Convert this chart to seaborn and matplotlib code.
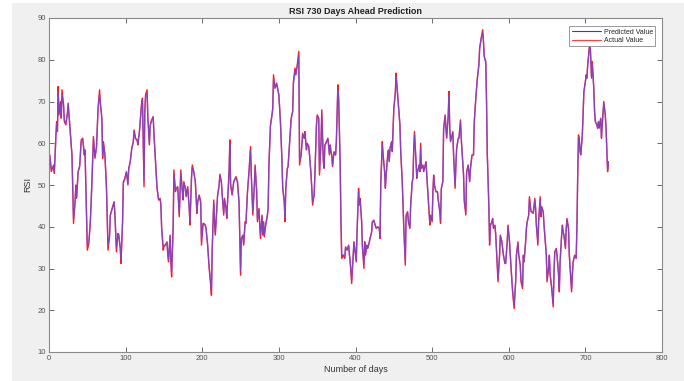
import matplotlib
matplotlib.use("Agg")
import matplotlib.pyplot as plt
import seaborn as sns
import pandas as pd
from matplotlib.lines import Line2D
from matplotlib.patches import Rectangle

days = [
    1, 3, 6, 7, 9, 10, 11, 12, 13, 15,
    16, 17, 19, 20, 22, 24, 25, 27, 30, 31,
    32, 34, 35, 36, 38, 40, 42, 44, 46, 47,
    49, 50, 52, 54, 56, 58, 60, 62, 64, 66,
    67, 69, 70, 71, 73, 75, 77, 79, 80, 83,
    85, 86, 88, 90, 91, 93, 94, 96, 97, 99,
    101, 103, 104, 106, 108, 110, 111, 113, 115, 116,
    118, 121, 122, 124, 125, 126, 128, 129, 131, 132,
    134, 136, 137, 139, 141, 143, 145, 146, 147, 149,
    150, 152, 154, 155, 156, 158, 159, 160, 162, 163,
    165, 166, 168, 169, 170, 172, 174, 175, 176, 178,
    179, 181, 183, 184, 186, 187, 189, 191, 192, 193,
    194, 196, 198, 199, 201, 202, 204, 205, 207, 209,
    211, 212, 213, 215, 216, 217, 218, 220, 222, 223,
    225, 226, 228, 229, 231, 232, 233, 235, 236, 237,
    239, 240, 241, 243, 244, 246, 247, 248, 250, 251,
    253, 254, 256, 257, 259, 261, 263, 264, 266, 268,
    269, 271, 272, 274, 275, 276, 278, 279, 280, 281,
    283, 285, 286, 287, 289, 291, 292, 293, 295, 297,
    298, 300, 302, 304, 305, 307, 308, 309, 311, 312,
    314, 316, 318, 319, 321, 322, 324, 326, 327, 329,
    330, 331, 333, 334, 336, 337, 339, 340, 342, 344,
    346, 347, 349, 350, 352, 353, 355, 356, 358, 359,
    360, 362, 364, 366, 367, 368, 369, 370, 372, 374,
    375, 377, 378, 380, 381, 382, 384, 386, 387, 389,
    391, 393, 394, 395, 397, 398, 399, 401, 402, 404,
    405, 406, 408, 409, 411, 412, 413, 415, 416, 418,
    419, 421, 422, 424, 425, 427, 429, 431, 432, 433,
    435, 436, 438, 439, 440, 442, 443, 444, 445, 447,
    448, 450, 452, 453, 454, 456, 458, 459, 461, 463,
    465, 466, 468, 469, 471, 472, 474, 475, 476, 477,
    479, 480, 481, 483, 484, 485, 486, 488, 489, 490,
    492, 493, 495, 497, 498, 500, 501, 502, 503, 505,
    507, 508, 510, 511, 512, 514, 515, 517, 518, 519,
    521, 522, 523, 524, 526, 527, 528, 530, 531, 532,
    534, 535, 537, 538, 540, 541, 542, 544, 545, 547,
    549, 550, 552, 554, 555, 557, 559, 561, 562, 564,
    566, 567, 568, 570, 571, 572, 574, 575, 576, 578,
    579, 580, 582, 583, 585, 586, 588, 589, 591, 593,
    595, 596, 598, 599, 601, 603, 605, 607, 609, 610,
    612, 613, 615, 616, 618, 619, 620, 622, 623, 624,
    626, 627, 629, 630, 632, 634, 635, 636, 638, 639,
    641, 642, 643, 645, 646, 647, 649, 650, 652, 653,
    654, 656, 658, 659, 660, 662, 663, 665, 666, 667,
    669, 670, 671, 672, 674, 675, 676, 678, 679, 681,
    682, 683, 684, 686, 688, 689, 690, 691, 692, 693,
    694, 696, 697, 698, 700, 701, 702, 703, 705, 706,
    707, 708, 709, 711, 712, 713, 715, 716, 717, 718,
    720, 721, 722, 724, 725, 726, 727, 728, 729, 730,
]

actual = [
    57.2, 53.2, 54.8, 52.8, 62.0, 65.2, 62.8, 73.6, 66.8, 70.0,
    66.0, 72.8, 69.2, 65.2, 64.4, 67.2, 69.6, 64.4, 57.2, 49.2,
    40.8, 46.0, 50.0, 46.8, 53.2, 54.4, 60.8, 61.2, 57.2, 58.4,
    42.8, 34.4, 36.0, 41.2, 50.8, 61.6, 56.4, 59.2, 68.4, 72.8,
    69.6, 66.0, 56.4, 60.4, 57.2, 49.2, 34.4, 37.6, 42.8, 44.8,
    46.0, 42.8, 34.0, 38.4, 38.0, 34.8, 31.2, 41.2, 50.8, 51.6,
    53.2, 50.0, 54.0, 55.6, 58.8, 60.4, 63.2, 61.2, 60.8, 59.6,
    62.8, 70.0, 70.8, 49.6, 67.6, 71.6, 72.8, 66.0, 59.6, 64.4,
    65.6, 66.4, 62.0, 55.6, 49.2, 46.4, 46.8, 45.2, 39.6, 34.4,
    35.2, 35.6, 36.4, 33.2, 31.6, 38.0, 31.6, 28.0, 39.6, 53.6,
    48.4, 49.2, 49.6, 46.0, 42.4, 53.6, 48.4, 46.4, 50.8, 49.2,
    47.2, 49.6, 44.4, 40.4, 52.0, 54.8, 53.2, 50.8, 47.2, 43.2,
    46.0, 47.6, 46.0, 35.6, 40.8, 40.8, 40.4, 39.6, 35.6, 30.0,
    26.0, 23.6, 34.8, 46.4, 41.2, 38.0, 41.2, 47.6, 50.0, 52.6,
    50.8, 47.6, 42.8, 46.8, 44.4, 42.0, 46.0, 53.2, 60.8, 50.0,
    47.6, 49.2, 50.8, 51.6, 52.0, 50.8, 48.4, 46.0, 28.4, 37.2,
    38.0, 35.6, 41.2, 40.8, 48.4, 53.2, 59.2, 52.4, 42.8, 50.0,
    54.8, 48.4, 41.2, 44.4, 40.4, 37.2, 42.8, 38.0, 41.2, 37.6,
    40.8, 42.8, 44.4, 54.8, 64.4, 66.8, 68.4, 76.4, 73.2, 74.4,
    73.6, 71.6, 65.2, 56.0, 49.2, 46.0, 41.2, 49.2, 54.0, 54.4,
    60.4, 66.0, 67.6, 74.8, 78.0, 76.4, 78.8, 82.0, 54.8, 57.2,
    59.6, 62.4, 61.2, 62.8, 58.4, 60.0, 59.2, 57.2, 52.4, 45.2,
    47.6, 52.4, 64.4, 66.8, 66.0, 52.4, 60.4, 68.0, 55.6, 54.0,
    59.6, 60.4, 61.2, 57.2, 59.6, 58.0, 57.2, 54.4, 58.0, 57.2,
    60.4, 74.0, 70.8, 54.8, 41.2, 32.4, 33.2, 32.4, 35.2, 34.4,
    35.6, 31.6, 29.2, 26.4, 33.2, 36.4, 34.8, 31.6, 38.8, 49.2,
    45.2, 46.8, 41.2, 35.2, 30.0, 36.4, 33.2, 35.6, 34.8, 36.4,
    37.2, 38.8, 41.2, 41.6, 40.8, 39.6, 40.0, 39.6, 37.2, 50.8,
    60.4, 57.2, 53.2, 49.2, 52.4, 57.2, 58.4, 55.6, 58.8, 60.4,
    58.0, 68.4, 72.4, 76.8, 74.0, 69.2, 64.4, 58.0, 50.8, 39.6,
    30.8, 42.8, 43.6, 41.2, 39.6, 45.2, 50.8, 51.6, 58.8, 62.8,
    55.6, 51.6, 53.2, 54.8, 53.2, 60.0, 54.0, 54.8, 53.2, 54.0,
    55.6, 52.4, 46.4, 40.4, 42.8, 41.2, 48.4, 52.4, 50.0, 48.4,
    48.4, 46.4, 43.6, 40.8, 49.2, 50.8, 63.6, 66.8, 63.6, 61.2,
    66.8, 72.4, 63.6, 60.4, 62.0, 62.8, 57.2, 49.2, 54.8, 58.8,
    61.2, 61.2, 65.6, 61.2, 55.6, 52.4, 46.0, 42.8, 53.2, 54.8,
    50.8, 54.0, 57.2, 57.2, 65.2, 70.8, 75.6, 78.8, 82.8, 85.2,
    87.2, 84.4, 80.8, 79.6, 70.0, 57.2, 45.2, 35.6, 40.4, 41.2,
    42.0, 39.6, 40.4, 38.0, 30.8, 26.8, 33.2, 38.0, 36.4, 33.2,
    31.2, 31.2, 36.4, 40.4, 36.4, 30.0, 24.4, 20.4, 26.8, 33.2,
    36.4, 33.2, 30.8, 26.8, 25.2, 33.2, 31.6, 36.4, 39.6, 41.2,
    42.8, 47.2, 43.6, 43.6, 43.2, 46.8, 44.4, 40.4, 35.6, 41.2,
    47.2, 42.4, 44.8, 43.6, 40.4, 38.0, 33.2, 26.8, 30.0, 33.2,
    28.4, 25.2, 20.8, 28.4, 34.0, 34.8, 33.2, 28.4, 24.4, 31.6,
    38.0, 40.4, 38.8, 38.0, 34.8, 39.6, 42.0, 39.6, 33.2, 27.2,
    24.4, 28.4, 31.6, 33.2, 32.4, 40.4, 52.4, 62.0, 61.2, 58.0,
    57.2, 62.0, 66.8, 72.4, 74.8, 76.4, 75.6, 78.8, 82.8, 85.2,
    80.4, 75.6, 79.6, 73.2, 67.6, 65.2, 64.4, 63.6, 65.2, 63.6,
    66.0, 61.2, 64.4, 70.0, 68.4, 66.8, 63.6, 58.0, 53.2, 55.6,
]

predicted = [
    57.0, 53.8, 54.6, 53.4, 61.5, 64.6, 63.2, 72.0, 67.4, 69.5,
    66.5, 71.6, 69.0, 65.6, 64.8, 67.0, 69.2, 64.8, 57.0, 49.8,
    42.0, 45.8, 49.4, 47.2, 53.0, 54.6, 60.2, 61.0, 57.6, 58.0,
    43.6, 35.6, 36.4, 41.6, 50.4, 61.0, 56.8, 59.0, 68.0, 71.6,
    69.8, 65.8, 57.2, 60.0, 57.0, 49.6, 35.6, 37.8, 42.6, 44.6,
    45.8, 43.2, 35.2, 38.2, 38.2, 35.0, 32.2, 41.0, 50.4, 51.4,
    53.0, 50.4, 53.6, 55.4, 58.6, 60.2, 62.6, 61.0, 60.6, 59.8,
    62.6, 69.4, 70.2, 50.8, 67.0, 71.0, 72.0, 66.4, 60.0, 64.0,
    65.4, 66.0, 62.2, 55.8, 49.4, 46.6, 46.6, 45.4, 40.0, 35.4,
    35.4, 35.8, 36.2, 33.6, 32.2, 37.6, 32.2, 29.2, 39.4, 52.6,
    48.6, 49.0, 49.4, 46.2, 43.2, 52.8, 48.6, 46.8, 50.4, 49.0,
    47.4, 49.4, 44.6, 41.2, 51.6, 54.2, 53.0, 50.6, 47.4, 43.8,
    45.8, 47.4, 45.6, 36.6, 40.4, 40.6, 40.2, 39.4, 35.8, 30.6,
    27.0, 24.8, 34.2, 45.6, 41.4, 38.4, 41.0, 47.2, 49.8, 52.0,
    50.6, 47.8, 43.4, 46.4, 44.4, 42.4, 45.8, 52.8, 59.8, 50.4,
    47.8, 49.0, 50.6, 51.4, 51.8, 50.6, 48.2, 45.6, 29.6, 37.0,
    37.8, 36.0, 41.0, 40.8, 48.0, 53.0, 58.4, 52.6, 43.6, 49.6,
    54.2, 48.6, 41.8, 44.0, 40.8, 38.0, 42.4, 38.4, 41.0, 38.0,
    40.6, 42.6, 44.6, 54.4, 64.0, 66.6, 68.2, 75.4, 73.2, 74.0,
    73.4, 71.4, 65.4, 56.2, 49.6, 46.2, 42.2, 49.0, 53.8, 54.4,
    60.2, 65.6, 67.6, 74.2, 77.2, 76.4, 78.4, 81.0, 55.8, 57.0,
    59.4, 62.0, 61.2, 62.4, 58.6, 59.8, 59.2, 57.2, 52.6, 46.0,
    47.6, 52.2, 63.8, 66.4, 65.8, 53.2, 60.0, 67.0, 56.0, 54.4,
    59.4, 60.2, 61.0, 57.4, 59.4, 58.0, 57.2, 54.8, 57.8, 57.2,
    60.2, 73.0, 70.6, 55.4, 42.0, 33.4, 33.2, 32.8, 35.0, 34.4,
    35.4, 31.8, 29.8, 27.4, 33.0, 36.2, 34.8, 31.8, 38.6, 48.4,
    45.4, 46.4, 41.4, 35.6, 31.0, 36.0, 33.6, 35.4, 35.0, 36.2,
    37.2, 38.6, 41.0, 41.4, 40.8, 39.6, 40.0, 39.6, 37.6, 50.0,
    59.6, 57.2, 53.2, 49.6, 52.2, 56.8, 58.2, 55.8, 58.6, 60.2,
    58.2, 68.0, 72.0, 76.0, 74.0, 69.2, 64.2, 58.2, 51.0, 40.2,
    31.8, 42.2, 43.4, 41.4, 39.8, 45.0, 50.6, 51.6, 58.4, 62.0,
    55.8, 52.0, 53.2, 54.6, 53.4, 59.0, 54.2, 54.6, 53.4, 54.0,
    55.4, 52.2, 46.6, 41.2, 42.6, 41.6, 48.0, 52.0, 50.0, 48.4,
    48.2, 46.4, 43.8, 41.6, 49.0, 51.0, 63.0, 66.4, 63.6, 61.4,
    66.4, 71.4, 63.8, 60.6, 61.8, 62.4, 57.4, 49.8, 54.6, 58.6,
    61.0, 61.2, 65.0, 61.2, 55.6, 52.4, 46.4, 43.6, 52.8, 54.6,
    51.0, 53.8, 57.0, 57.2, 65.0, 70.6, 75.4, 78.6, 82.4, 85.0,
    86.4, 84.2, 80.8, 79.2, 70.2, 57.4, 45.4, 36.6, 40.2, 41.2,
    41.8, 39.8, 40.2, 38.2, 31.4, 27.6, 33.0, 37.8, 36.4, 33.4,
    31.4, 31.4, 36.2, 40.0, 36.4, 30.4, 25.0, 21.2, 26.8, 33.0,
    36.0, 33.4, 30.8, 27.4, 25.8, 32.8, 31.8, 36.2, 39.4, 41.0,
    42.6, 46.6, 43.8, 43.6, 43.2, 46.4, 44.4, 40.6, 36.4, 41.0,
    46.6, 42.8, 44.6, 43.6, 40.6, 38.2, 33.6, 27.6, 30.2, 33.0,
    28.8, 25.8, 21.6, 28.4, 33.6, 34.6, 33.2, 28.8, 25.2, 31.4,
    37.8, 40.0, 38.8, 38.0, 35.2, 39.4, 41.6, 39.4, 33.6, 27.8,
    25.0, 28.6, 31.4, 33.0, 32.6, 40.2, 52.0, 61.4, 61.0, 58.2,
    57.4, 61.8, 66.6, 72.0, 74.6, 76.0, 75.6, 78.4, 82.2, 84.4,
    80.6, 76.2, 79.0, 73.0, 67.8, 65.2, 64.4, 63.8, 65.0, 63.8,
    65.8, 61.6, 64.2, 69.4, 68.2, 66.6, 63.4, 58.2, 53.8, 55.4,
]

x_ticks = [0, 100, 200, 300, 400, 500, 600, 700, 800]
y_ticks = [10, 20, 30, 40, 50, 60, 70, 80, 90]
title = "RSI 730 Days Ahead Prediction"
x_label = "Number of days"
y_label = "RSI"
label_pred = "Predicted Value"
label_act = "Actual Value"

df = pd.DataFrame({"day": days, "actual": actual, "predicted": predicted})

sns.set_theme(style="ticks")
plt.rcParams["font.family"] = ["Liberation Sans", "DejaVu Sans"]

fig = plt.figure(figsize=(6.84, 3.81), dpi=100, facecolor="white")
# grey MATLAB-style figure panel (white strip at left and top as in reference)
panel = Rectangle((12 / 684, 0), 1 - 12 / 684, 1 - 3 / 381,
                  transform=fig.transFigure, facecolor="#f0f0f0",
                  edgecolor="none", zorder=-10)
fig.add_artist(panel)
ax = fig.add_axes([49 / 684, 1 - 352 / 381, 613 / 684, 334 / 381])
ax.set_zorder(1)
ax.set_facecolor("white")

sns.lineplot(data=df, x="day", y="actual", color="#ff1a1a", linewidth=1.0,
             estimator=None, sort=False, ax=ax, label=label_act)
sns.lineplot(data=df, x="day", y="predicted", color="#5a50ff", linewidth=1.0,
             alpha=0.7, estimator=None, sort=False, ax=ax, label=label_pred)

ax.set_xlim(0, 800)
ax.set_ylim(10, 90)
ax.set_xticks(x_ticks)
ax.set_yticks(y_ticks)
ax.tick_params(direction="in", length=3.5, width=0.6, colors="#555555",
               labelsize=5.5, top=True, right=True, pad=2)
for s in ax.spines.values():
    s.set_visible(True)
    s.set_color("#8a8a8a")
    s.set_linewidth(0.8)

ax.set_title(title, fontsize=6.5, fontweight="bold", color="#222222", pad=3)
ax.set_xlabel(x_label, fontsize=6.5, color="#333333", labelpad=2)
ax.set_ylabel(y_label, fontsize=6.5, color="#333333", labelpad=4)

handles = [Line2D([], [], color="#3333ff", lw=0.8),
           Line2D([], [], color="#ff4040", lw=0.8)]
leg = ax.legend(handles, [label_pred, label_act], loc="upper right",
                fontsize=5, frameon=True, fancybox=False, framealpha=1,
                edgecolor="#888888", handlelength=4.2, handletextpad=0.4,
                borderpad=0.35, labelspacing=0.15, bbox_to_anchor=(0.995, 0.985))
leg.get_frame().set_linewidth(0.6)

fig.savefig("out.png", dpi=100, facecolor=fig.get_facecolor())
